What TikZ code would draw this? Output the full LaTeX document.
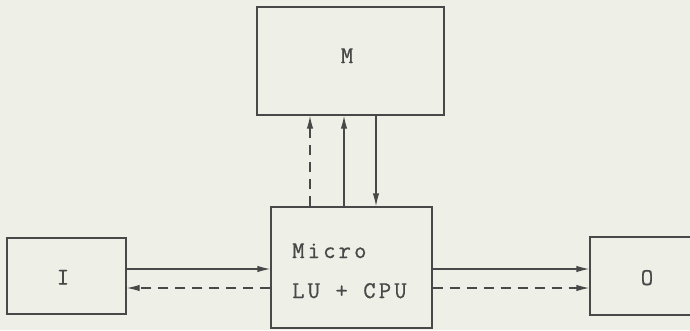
\documentclass[tikz,border=0pt]{standalone}
\usepackage{fontspec}
\setmonofont{Latin Modern Mono}[LetterSpace=13,FakeBold=0.8]
\usetikzlibrary{arrows.meta}
\definecolor{paper}{HTML}{EEEFE6}
\definecolor{ink}{HTML}{484848}
\begin{document}
\begin{tikzpicture}[x=1pt,y=-1pt,
  box/.style={draw=ink,line width=1.3pt,inner sep=0pt,minimum width=#1},
  lbl/.style={font=\ttfamily\fontsize{24}{30}\selectfont,text=ink,inner sep=0pt},
  conn/.style={draw=ink,line width=1.3pt,-{Latex[length=13pt,width=6.5pt]}},
  dsh/.style={conn,dash pattern=on 10pt off 7pt}]
\fill[paper] (0,0) rectangle (690,330);
\useasboundingbox (0,0) rectangle (690,330);
\clip (0,0) rectangle (690,330);
\node[box=187pt,minimum height=108pt] (m) at (350.5,61) {};
\node[lbl,anchor=base] (mt) at (347,63) {M};
\node[box=161pt,minimum height=121pt] (micro) at (351.5,267.5) {};
\node[lbl,anchor=base west] (mic) at (292,258) {Micro};
\node[lbl,anchor=base west] (lu) at (292,298) {LU + CPU};
\node[box=119pt,minimum height=76pt] (i) at (66.5,276) {};
\node[lbl,anchor=base] (it) at (63,284.5) {I};
\node[box=115pt,minimum height=78pt] (o) at (647.5,276) {};
\node[lbl,anchor=base] (ot) at (647,285) {O};
\coordinate (xd) at (310,0);
\coordinate (xu) at (344,0);
\coordinate (xw) at (376,0);
\coordinate (ys) at (0,269);
\coordinate (yd) at (0,288);
\draw[dsh] (micro.north -| xd) -- (m.south -| xd);
\draw[conn] (micro.north -| xu) -- (m.south -| xu);
\draw[conn] (m.south -| xw) -- (micro.north -| xw);
\draw[conn] (i.east |- ys) -- (micro.west |- ys);
\draw[dsh] (micro.west |- yd) -- (i.east |- yd);
\draw[conn] (micro.east |- ys) -- (o.west |- ys);
\draw[dsh] (micro.east |- yd) -- (o.west |- yd);
\end{tikzpicture}
\end{document}
